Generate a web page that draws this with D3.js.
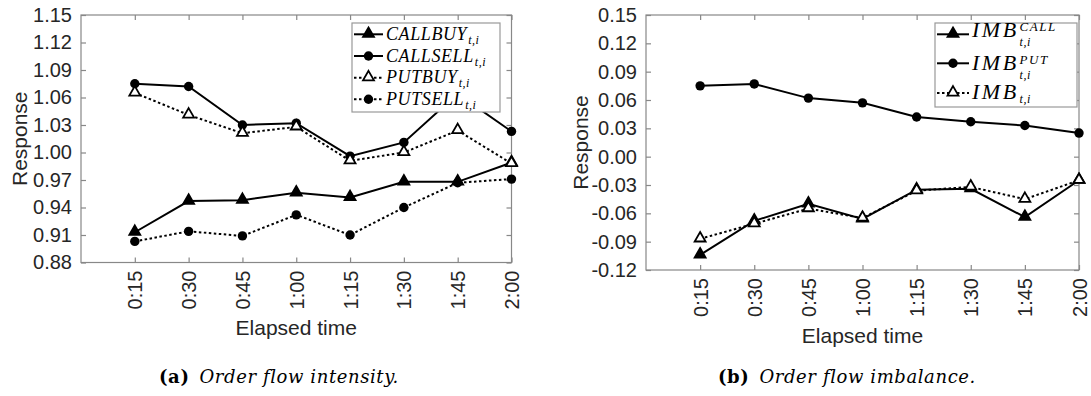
<!DOCTYPE html>
<html>
<head>
<meta charset="utf-8">
<script src="https://cdn.jsdelivr.net/npm/d3@7"></script>
<style>
  body { margin: 0; background: #fff; }
  svg { display: block; font-family: "Liberation Sans", Arial, sans-serif; }
  .tick text { fill: #262626; font-family: "Liberation Sans", Arial, sans-serif; }
</style>
</head>
<body>
<script>
// elapsed time categories (x = 1..8)
var timeLabels = ['0:15', '0:30', '0:45', '1:00', '1:15', '1:30', '1:45', '2:00']

// panel (a): order flow intensity
var callBuy  = [0.913, 0.947, 0.948, 0.956, 0.951, 0.968, 0.968, 0.989]
var callSell = [1.075, 1.072, 1.030, 1.032, 0.996, 1.011, 1.064, 1.023]
var putBuy   = [1.065, 1.041, 1.021, 1.028, 0.991, 1.000, 1.024, 0.988]
var putSell  = [0.903, 0.914, 0.909, 0.932, 0.910, 0.940, 0.967, 0.971]
var yTicksA  = [0.88, 0.91, 0.94, 0.97, 1.00, 1.03, 1.06, 1.09, 1.12, 1.15]

// panel (b): order flow imbalance
var imbCall = [-0.104, -0.068, -0.050, -0.066, -0.035, -0.034, -0.064, -0.025]
var imbPut  = [0.075, 0.077, 0.062, 0.057, 0.042, 0.037, 0.033, 0.025]
var imbAll  = [-0.087, -0.071, -0.055, -0.065, -0.036, -0.032, -0.045, -0.025]
var yTicksB = [-0.12, -0.09, -0.06, -0.03, 0.00, 0.03, 0.06, 0.09, 0.12, 0.15]

var W = 1091, H = 396
var svg = d3.select('body').append('svg').attr('width', W).attr('height', H)

var panels = [
  {
    box: {left: 81, right: 511.5, top: 15, bottom: 262.5},
    yTicks: yTicksA,
    ylabX: 27,
    xlabY: 335,
    caption: ['(a)', 'Order flow intensity.'],
    capX: 159,
    series: [
      {name: 'CALLBUY', values: callBuy, dash: null, marker: 'triFilled'},
      {name: 'CALLSELL', values: callSell, dash: null, marker: 'circle'},
      {name: 'PUTBUY', values: putBuy, dash: '2.5,2.5', marker: 'triOpen'},
      {name: 'PUTSELL', values: putSell, dash: '2.5,2.5', marker: 'circle'}
    ],
    legend: {left: 352, right: 500, top: 23, bottom: 112, rows: [34.3, 56, 77.7, 99.3], base: [40, 61.7, 83.4, 105],
             fs: 18, ls: 0.6, supFs: 12, subFs: 12, textX: 386}
  },
  {
    box: {left: 646, right: 1079, top: 15, bottom: 270},
    yTicks: yTicksB,
    ylabX: 588,
    xlabY: 343,
    caption: ['(b)', 'Order flow imbalance.'],
    capX: 718,
    series: [
      {name: 'IMB', sup: 'CALL', values: imbCall, dash: null, marker: 'triFilled'},
      {name: 'IMB', sup: 'PUT', values: imbPut, dash: null, marker: 'circle'},
      {name: 'IMB', sup: null, values: imbAll, dash: '2.5,2.5', marker: 'triOpen'}
    ],
    legend: {left: 935, right: 1077, top: 23, bottom: 107, rows: [34.3, 63.3, 93], base: [37, 69.5, 99],
             fs: 22, ls: 2.5, supFs: 13, subFs: 12, textX: 972}
  }
]

var triPath = d3.symbol().type(d3.symbolTriangle).size(52)

function drawMarker(g, kind, x, y) {
  if (kind === 'circle') {
    g.append('circle').attr('cx', x).attr('cy', y).attr('r', 4.7).attr('fill', '#000')
  } else {
    g.append('path')
      .attr('d', triPath())
      .attr('transform', 'translate(' + x + ',' + (y - 0.5) + ')')
      .attr('fill', kind === 'triFilled' ? '#000' : '#fff')
      .attr('stroke', '#000')
      .attr('stroke-width', 1.8)
  }
}

var serif = '"Liberation Serif", "Times New Roman", serif'

panels.forEach(function (p) {
  var b = p.box
  var x = d3.scaleLinear().domain([0, 8]).range([b.left, b.right])
  var y = d3.scaleLinear().domain([p.yTicks[0], p.yTicks[p.yTicks.length - 1]]).range([b.bottom, b.top])
  var xt = d3.range(1, 9)

  // box
  svg.append('rect')
    .attr('x', b.left).attr('y', b.top)
    .attr('width', b.right - b.left).attr('height', b.bottom - b.top)
    .attr('fill', 'none').attr('stroke', '#888').attr('stroke-width', 1.2)

  // axes, ticks pointing inward
  var gy = svg.append('g').attr('transform', 'translate(' + b.left + ',0)')
    .call(d3.axisLeft(y).tickValues(p.yTicks).tickSizeInner(-5).tickSizeOuter(0).tickPadding(9)
      .tickFormat(function (d) { return d.toFixed(2) }))
  gy.selectAll('.tick text').style('font-size', '20px')

  svg.append('g').attr('transform', 'translate(' + b.right + ',0)')
    .call(d3.axisRight(y).tickValues(p.yTicks).tickSizeInner(-5).tickSizeOuter(0).tickFormat(''))

  var gx = svg.append('g').attr('transform', 'translate(0,' + b.bottom + ')')
    .call(d3.axisBottom(x).tickValues(xt).tickSizeInner(-5).tickSizeOuter(0)
      .tickFormat(function (d) { return timeLabels[d - 1] }))
  gx.selectAll('.tick text')
    .attr('transform', 'rotate(-90)')
    .attr('x', -8).attr('y', 0).attr('dy', '0.35em')
    .style('text-anchor', 'end').style('font-size', '20px')

  svg.append('g').attr('transform', 'translate(0,' + b.top + ')')
    .call(d3.axisTop(x).tickValues(xt).tickSizeInner(-5).tickSizeOuter(0).tickFormat(''))

  svg.selectAll('.domain').attr('stroke', 'none')
  svg.selectAll('.tick line').attr('stroke', '#888').attr('stroke-width', 1.2)

  // axis labels
  svg.append('text')
    .attr('transform', 'translate(' + p.ylabX + ',' + ((b.top + b.bottom) / 2) + ') rotate(-90)')
    .attr('text-anchor', 'middle')
    .style('font-size', '21px').attr('fill', '#262626')
    .text('Response')

  svg.append('text')
    .attr('x', (b.left + b.right) / 2).attr('y', p.xlabY)
    .attr('text-anchor', 'middle')
    .style('font-size', '21px').attr('fill', '#262626')
    .text('Elapsed time')

  // series
  var line = d3.line().x(function (d, i) { return x(i + 1) }).y(function (d) { return y(d) })
  p.series.forEach(function (s) {
    svg.append('path')
      .attr('d', line(s.values))
      .attr('fill', 'none').attr('stroke', '#000').attr('stroke-width', 2)
      .attr('stroke-dasharray', s.dash)
    var gm = svg.append('g')
    s.values.forEach(function (v, i) { drawMarker(gm, s.marker, x(i + 1), y(v)) })
  })

  // legend
  var L = p.legend
  var lg = svg.append('g')
  lg.append('rect')
    .attr('x', L.left).attr('y', L.top)
    .attr('width', L.right - L.left).attr('height', L.bottom - L.top)
    .attr('fill', '#fff').attr('stroke', '#999').attr('stroke-width', 1.2)
  p.series.forEach(function (s, i) {
    var ry = L.rows[i]
    var lx0 = L.left + 2, lx1 = L.textX - 3
    lg.append('line')
      .attr('x1', lx0).attr('x2', lx1).attr('y1', ry).attr('y2', ry)
      .attr('stroke', '#000').attr('stroke-width', 2)
      .attr('stroke-dasharray', s.dash)
    drawMarker(lg, s.marker, (lx0 + lx1) / 2, ry)

    var t = lg.append('text')
      .attr('x', L.textX).attr('y', L.base[i])
      .style('font-family', serif).style('font-style', 'italic')
      .style('font-size', L.fs + 'px').style('letter-spacing', L.ls + 'px')
      .attr('fill', '#000')
      .text(s.name)
    var w = t.node().getComputedTextLength()
    var sx = L.textX + w + 1
    if (s.sup) {
      lg.append('text')
        .attr('x', sx).attr('y', L.base[i] - 6)
        .style('font-family', serif).style('font-style', 'italic')
        .style('font-size', L.supFs + 'px').style('letter-spacing', (L.ls * 0.6) + 'px')
        .text(s.sup)
    }
    lg.append('text')
      .attr('x', sx).attr('y', L.base[i] + (s.sup ? 9 : 4))
      .style('font-family', serif).style('font-style', 'italic')
      .style('font-size', L.subFs + 'px').style('letter-spacing', '0.5px')
      .text('t,i')
  })

  // caption
  var cap = svg.append('text')
    .attr('x', p.capX).attr('y', 383)
    .style('font-family', '"DejaVu Serif", "Liberation Serif", serif')
    .style('font-size', '18px').style('letter-spacing', '0.6px').attr('fill', '#000')
  cap.append('tspan').style('font-weight', 'bold').text(p.caption[0])
  cap.append('tspan').attr('dx', 10).style('font-style', 'italic').text(p.caption[1])
})
</script>
</body>
</html>
